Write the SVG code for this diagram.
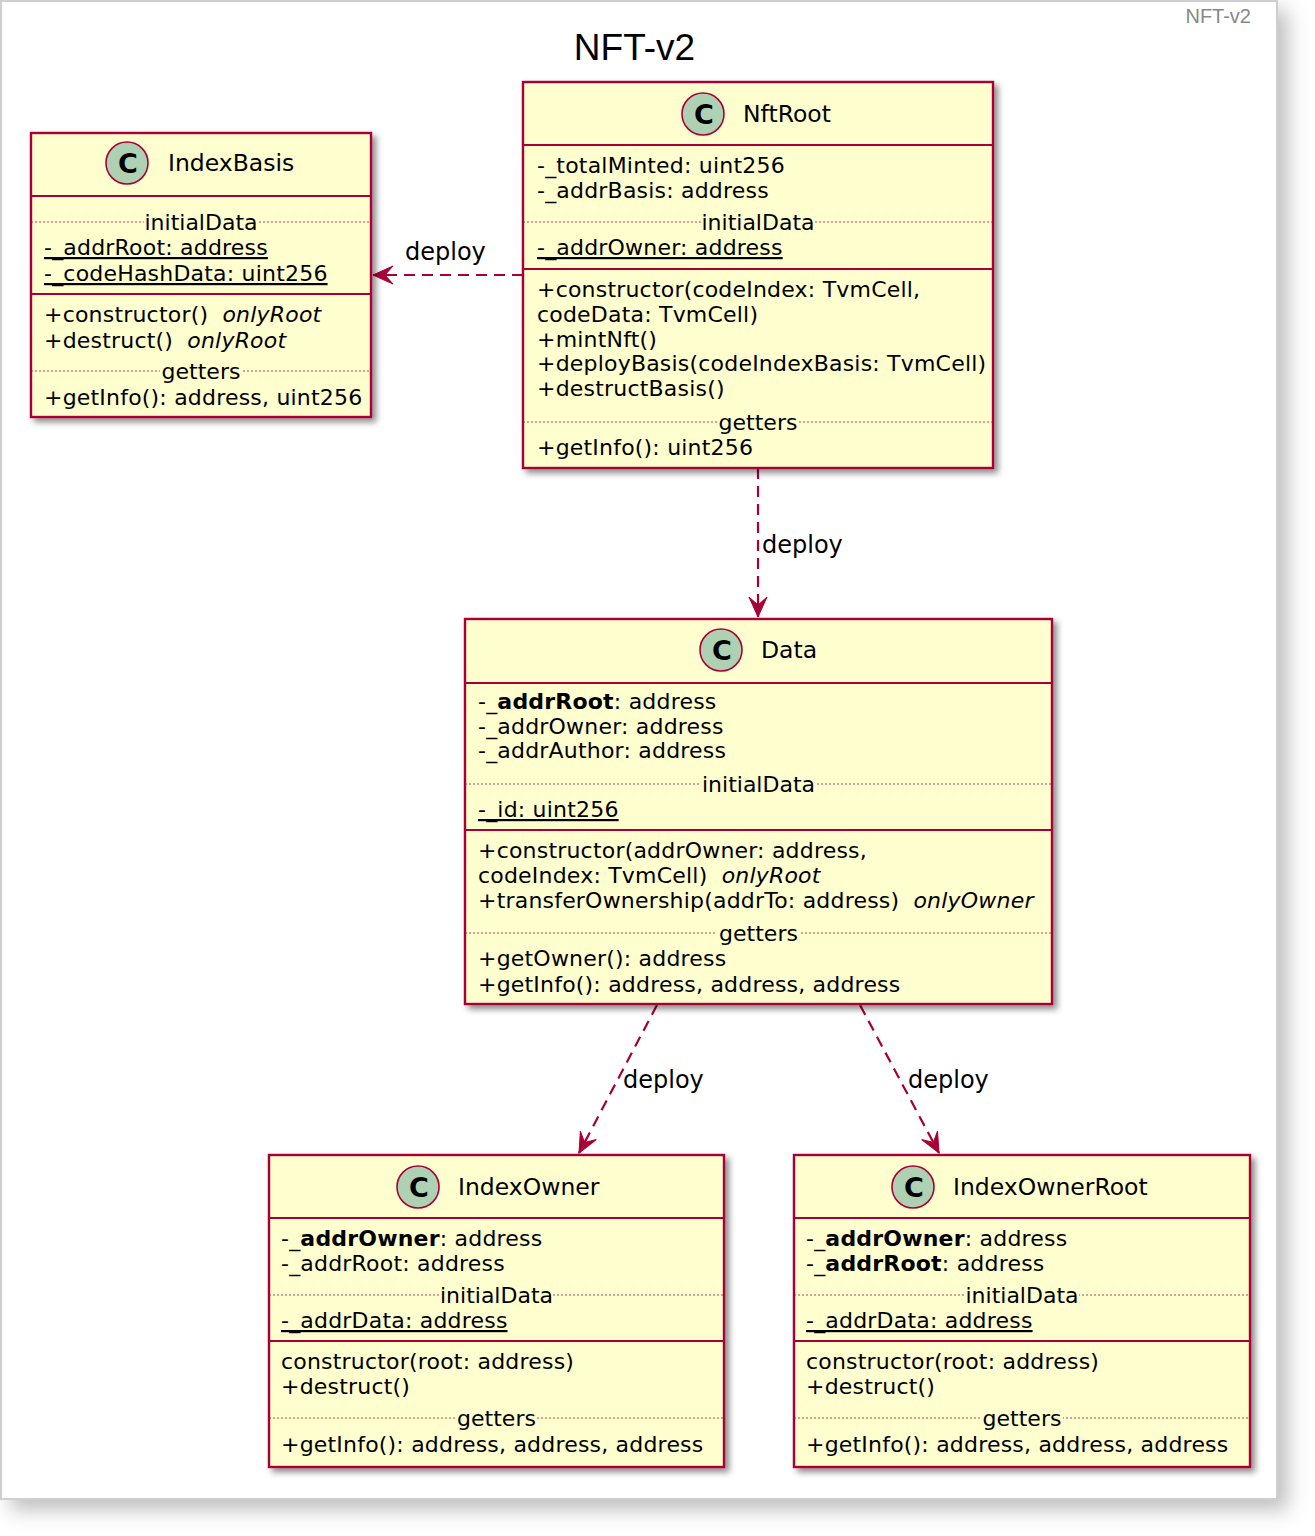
<svg xmlns="http://www.w3.org/2000/svg" width="1315" height="1536" viewBox="0 0 1315 1536">
<defs>
<style>
.box{fill:#FEFECE;stroke:#A80036;stroke-width:2.4}
.sep{stroke:#A80036;stroke-width:2}
.dot{stroke:#A80036;stroke-width:1;stroke-dasharray:2,2;opacity:0.75}
.circ{fill:#ADD1B2;stroke:#A80036;stroke-width:1.6}
.cl{font-family:"DejaVu Sans",sans-serif;font-size:27px;font-weight:bold;fill:#000;text-anchor:middle}
.name{font-family:"DejaVu Sans",sans-serif;font-size:23.5px;fill:#000}
.t{font-family:"DejaVu Sans",sans-serif;font-size:22px;letter-spacing:0.2px;fill:#000}
.st{font-family:"DejaVu Sans",sans-serif;font-size:22px;letter-spacing:0.2px;fill:#000;text-decoration:underline}
.lab{font-family:"DejaVu Sans",sans-serif;font-size:22px;fill:#000;text-anchor:middle}
.b{font-weight:bold}
.i{font-style:italic}
.edge{fill:none;stroke:#A80036;stroke-width:2.2;stroke-dasharray:11,7}
.el{font-family:"DejaVu Sans",sans-serif;font-size:24px;fill:#000}
</style>
<filter id="pshadow" x="-5%" y="-5%" width="115%" height="115%">
<feDropShadow dx="10" dy="10" stdDeviation="10" flood-color="#000" flood-opacity="0.25"/>
</filter>
<filter id="shadow" x="-5%" y="-5%" width="115%" height="115%">
<feDropShadow dx="4" dy="4" stdDeviation="3" flood-color="#000" flood-opacity="0.45"/>
</filter>
<marker id="arr" viewBox="-21 -11 22 22" refX="0" refY="0" markerWidth="22" markerHeight="22" markerUnits="userSpaceOnUse" orient="auto">
<path d="M0,0 L-20,-9 L-12,0 L-20,9 Z" fill="#A80036" stroke="#A80036" stroke-width="1"/>
</marker>
</defs>
<rect x="0" y="0" width="1315" height="1536" fill="#fff"/>
<rect x="1" y="1" width="1276" height="1498" fill="#fff" stroke="#cfcfcf" stroke-width="2" filter="url(#pshadow)"/>
<text x="1251" y="23" font-family="Liberation Sans, sans-serif" font-size="20" fill="#888" text-anchor="end">NFT-v2</text>
<text x="634.5" y="60" font-family="Liberation Sans, sans-serif" font-size="37" fill="#000" text-anchor="middle">NFT-v2</text>

<g id="connectors">
<line class="edge" x1="523" y1="275" x2="373" y2="275" marker-end="url(#arr)"/>
<text class="el" x="405" y="260">deploy</text>
<line class="edge" x1="758" y1="468" x2="758" y2="617" marker-end="url(#arr)"/>
<text class="el" x="762" y="553">deploy</text>
<line class="edge" x1="657" y1="1005" x2="579" y2="1153" marker-end="url(#arr)"/>
<text class="el" x="623" y="1088">deploy</text>
<line class="edge" x1="860" y1="1005" x2="939" y2="1153" marker-end="url(#arr)"/>
<text class="el" x="908" y="1088">deploy</text>
</g>

<g id="IndexBasis">
<rect class="box" x="31" y="133" width="340" height="284" filter="url(#shadow)"/>
<circle class="circ" cx="127" cy="163" r="21"/>
<text class="cl" x="128" y="173">C</text>
<text class="name" x="168" y="171">IndexBasis</text>
<line class="sep" x1="31" y1="196" x2="371" y2="196"/>
<line class="dot" x1="31" y1="222" x2="371" y2="222"/>
<rect x="144" y="210" width="114" height="24" fill="#FEFECE"/>
<text class="lab" x="201" y="230">initialData</text>
<text class="st" x="44" y="255">-_addrRoot: address</text>
<text class="st" x="44" y="281">-_codeHashData: uint256</text>
<line class="sep" x1="31" y1="294" x2="371" y2="294"/>
<text class="t" x="44" y="322">+constructor() <tspan class="i" dx="7">onlyRoot</tspan></text>
<text class="t" x="44" y="348">+destruct() <tspan class="i" dx="7">onlyRoot</tspan></text>
<line class="dot" x1="31" y1="371" x2="371" y2="371"/>
<rect x="160" y="359" width="82" height="24" fill="#FEFECE"/>
<text class="lab" x="201" y="379">getters</text>
<text class="t" x="44" y="405">+getInfo(): address, uint256</text>
</g>

<g id="NftRoot">
<rect class="box" x="523" y="82" width="470" height="386" filter="url(#shadow)"/>
<circle class="circ" cx="703" cy="114" r="21"/>
<text class="cl" x="704" y="124">C</text>
<text class="name" x="743" y="122">NftRoot</text>
<line class="sep" x1="523" y1="145" x2="993" y2="145"/>
<text class="t" x="537" y="173">-_totalMinted: uint256</text>
<text class="t" x="537" y="198">-_addrBasis: address</text>
<line class="dot" x1="523" y1="222" x2="993" y2="222"/>
<rect x="701" y="210" width="114" height="24" fill="#FEFECE"/>
<text class="lab" x="758" y="230">initialData</text>
<text class="st" x="537" y="255">-_addrOwner: address</text>
<line class="sep" x1="523" y1="269" x2="993" y2="269"/>
<text class="t" x="537" y="297">+constructor(codeIndex: TvmCell,</text>
<text class="t" x="537" y="322">codeData: TvmCell)</text>
<text class="t" x="537" y="347">+mintNft()</text>
<text class="t" x="537" y="371">+deployBasis(codeIndexBasis: TvmCell)</text>
<text class="t" x="537" y="396">+destructBasis()</text>
<line class="dot" x1="523" y1="422" x2="993" y2="422"/>
<rect x="717" y="410" width="82" height="24" fill="#FEFECE"/>
<text class="lab" x="758" y="430">getters</text>
<text class="t" x="537" y="455">+getInfo(): uint256</text>
</g>

<g id="Data">
<rect class="box" x="465" y="619" width="587" height="385" filter="url(#shadow)"/>
<circle class="circ" cx="721" cy="650" r="21"/>
<text class="cl" x="722" y="660">C</text>
<text class="name" x="761" y="658">Data</text>
<line class="sep" x1="465" y1="683" x2="1052" y2="683"/>
<text class="t" x="478" y="709">-_<tspan class="b">addrRoot</tspan>: address</text>
<text class="t" x="478" y="734">-_addrOwner: address</text>
<text class="t" x="478" y="758">-_addrAuthor: address</text>
<line class="dot" x1="465" y1="784" x2="1052" y2="784"/>
<rect x="701" y="772" width="114" height="24" fill="#FEFECE"/>
<text class="lab" x="758.5" y="792">initialData</text>
<text class="st" x="478" y="817">-_id: uint256</text>
<line class="sep" x1="465" y1="830" x2="1052" y2="830"/>
<text class="t" x="478" y="858">+constructor(addrOwner: address,</text>
<text class="t" x="478" y="883">codeIndex: TvmCell) <tspan class="i" dx="7">onlyRoot</tspan></text>
<text class="t" x="478" y="908">+transferOwnership(addrTo: address) <tspan class="i" dx="7">onlyOwner</tspan></text>
<line class="dot" x1="465" y1="933" x2="1052" y2="933"/>
<rect x="717" y="921" width="82" height="24" fill="#FEFECE"/>
<text class="lab" x="758.5" y="941">getters</text>
<text class="t" x="478" y="966">+getOwner(): address</text>
<text class="t" x="478" y="992">+getInfo(): address, address, address</text>
</g>

<g id="IndexOwner">
<rect class="box" x="269" y="1155" width="455" height="312" filter="url(#shadow)"/>
<circle class="circ" cx="418" cy="1187" r="21"/>
<text class="cl" x="419" y="1197">C</text>
<text class="name" x="458" y="1195">IndexOwner</text>
<line class="sep" x1="269" y1="1218" x2="724" y2="1218"/>
<text class="t" x="281" y="1246">-_<tspan class="b">addrOwner</tspan>: address</text>
<text class="t" x="281" y="1271">-_addrRoot: address</text>
<line class="dot" x1="269" y1="1295" x2="724" y2="1295"/>
<rect x="439" y="1283" width="114" height="24" fill="#FEFECE"/>
<text class="lab" x="496.5" y="1303">initialData</text>
<text class="st" x="281" y="1328">-_addrData: address</text>
<line class="sep" x1="269" y1="1341" x2="724" y2="1341"/>
<text class="t" x="281" y="1369">constructor(root: address)</text>
<text class="t" x="281" y="1394">+destruct()</text>
<line class="dot" x1="269" y1="1418" x2="724" y2="1418"/>
<rect x="455" y="1406" width="82" height="24" fill="#FEFECE"/>
<text class="lab" x="496.5" y="1426">getters</text>
<text class="t" x="281" y="1452">+getInfo(): address, address, address</text>
</g>

<g id="IndexOwnerRoot">
<rect class="box" x="794" y="1155" width="456" height="312" filter="url(#shadow)"/>
<circle class="circ" cx="913" cy="1187" r="21"/>
<text class="cl" x="914" y="1197">C</text>
<text class="name" x="953" y="1195">IndexOwnerRoot</text>
<line class="sep" x1="794" y1="1218" x2="1250" y2="1218"/>
<text class="t" x="806" y="1246">-_<tspan class="b">addrOwner</tspan>: address</text>
<text class="t" x="806" y="1271">-_<tspan class="b">addrRoot</tspan>: address</text>
<line class="dot" x1="794" y1="1295" x2="1250" y2="1295"/>
<rect x="965" y="1283" width="114" height="24" fill="#FEFECE"/>
<text class="lab" x="1022" y="1303">initialData</text>
<text class="st" x="806" y="1328">-_addrData: address</text>
<line class="sep" x1="794" y1="1341" x2="1250" y2="1341"/>
<text class="t" x="806" y="1369">constructor(root: address)</text>
<text class="t" x="806" y="1394">+destruct()</text>
<line class="dot" x1="794" y1="1418" x2="1250" y2="1418"/>
<rect x="981" y="1406" width="82" height="24" fill="#FEFECE"/>
<text class="lab" x="1022" y="1426">getters</text>
<text class="t" x="806" y="1452">+getInfo(): address, address, address</text>
</g>
</svg>
